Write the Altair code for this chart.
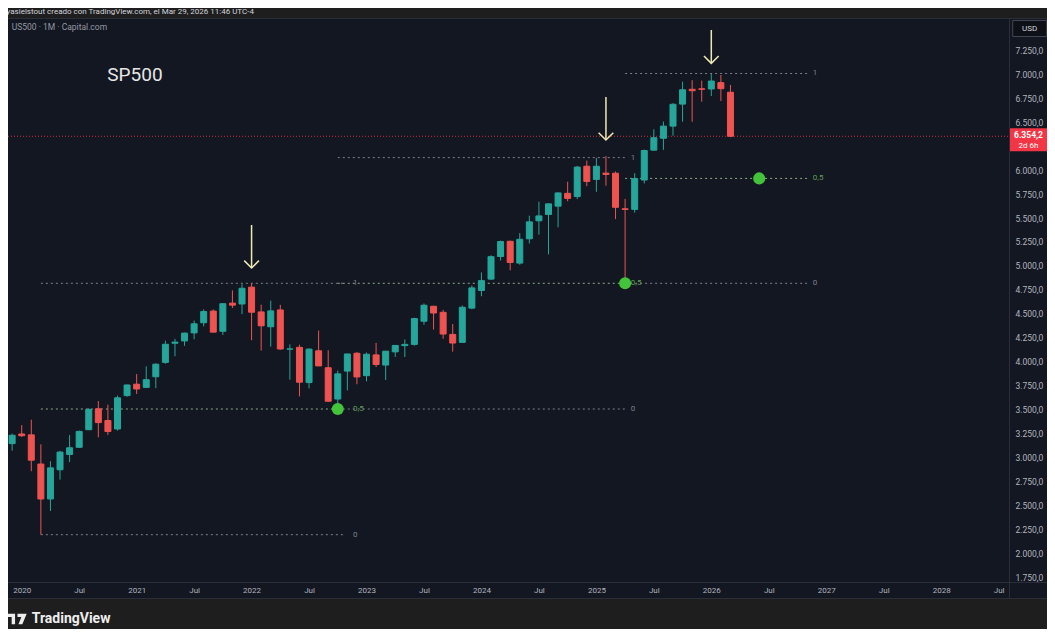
import altair as alt
import pandas as pd

# ---------------- data ----------------
months = [
    "2019-12",
    "2020-01", "2020-02", "2020-03", "2020-04", "2020-05", "2020-06", "2020-07", "2020-08", "2020-09", "2020-10", "2020-11", "2020-12",
    "2021-01", "2021-02", "2021-03", "2021-04", "2021-05", "2021-06", "2021-07", "2021-08", "2021-09", "2021-10", "2021-11", "2021-12",
    "2022-01", "2022-02", "2022-03", "2022-04", "2022-05", "2022-06", "2022-07", "2022-08", "2022-09", "2022-10", "2022-11", "2022-12",
    "2023-01", "2023-02", "2023-03", "2023-04", "2023-05", "2023-06", "2023-07", "2023-08", "2023-09", "2023-10", "2023-11", "2023-12",
    "2024-01", "2024-02", "2024-03", "2024-04", "2024-05", "2024-06", "2024-07", "2024-08", "2024-09", "2024-10", "2024-11", "2024-12",
    "2025-01", "2025-02", "2025-03", "2025-04", "2025-05", "2025-06", "2025-07", "2025-08", "2025-09", "2025-10", "2025-11", "2025-12",
    "2026-01", "2026-02", "2026-03",
]
opens = [
    3143,
    3244, 3235, 2930, 2565, 2870, 3030, 3105, 3289, 3507, 3385, 3296, 3645,
    3764, 3731, 3842, 3992, 4192, 4216, 4300, 4406, 4528, 4317, 4611, 4602,
    4778, 4519, 4364, 4540, 4131, 4149, 3781, 4113, 3936, 3609, 3901, 4087,
    3853, 4070, 3964, 4102, 4167, 4180, 4422, 4578, 4515, 4284, 4201, 4559,
    4743, 4862, 5098, 5257, 5029, 5283, 5471, 5537, 5624, 5758, 5724, 6041,
    5903, 5969, 5968, 5597, 5590, 5897, 6209, 6333, 6460, 6690, 6845, 6850,
    6848, 6914, 6814,
]
highs = [
    3247,
    3337, 3393, 3136, 2960, 3068, 3233, 3280, 3514, 3588, 3550, 3645, 3760,
    3870, 3950, 3983, 4218, 4238, 4302, 4429, 4546, 4545, 4608, 4744, 4808,
    4818, 4595, 4637, 4593, 4180, 4177, 4140, 4325, 4119, 3906, 4080, 4101,
    4095, 4195, 4110, 4170, 4231, 4458, 4607, 4584, 4541, 4393, 4587, 4794,
    4932, 5111, 5265, 5264, 5342, 5524, 5670, 5652, 5768, 5879, 6044, 6100,
    6128, 6147, 5986, 5700, 5968, 6215, 6427, 6508, 6700, 6924, 6940, 6935,
    7005, 6994, 6890,
]
lows = [
    3070,
    3214, 2855, 2192, 2440, 2767, 2950, 3101, 3284, 3209, 3234, 3279, 3633,
    3662, 3725, 3723, 3978, 4056, 4165, 4233, 4368, 4306, 4279, 4560, 4496,
    4223, 4115, 4157, 4123, 3811, 3637, 3721, 3955, 3585, 3492, 3699, 3764,
    3794, 3943, 3808, 4049, 4048, 4166, 4385, 4335, 4238, 4104, 4197, 4547,
    4683, 4854, 5056, 4954, 5012, 5234, 5327, 5120, 5403, 5675, 5697, 5833,
    5774, 5837, 5489, 4818, 5557, 5861, 6201, 6212, 6360, 6506, 6506, 6715,
    6775, 6722, 6345,
]
closes = [
    3231,
    3226, 2970, 2565, 2890, 3055, 3100, 3271, 3500, 3363, 3270, 3622, 3756,
    3714, 3811, 3973, 4181, 4204, 4298, 4395, 4523, 4308, 4605, 4590, 4766,
    4516, 4374, 4530, 4132, 4132, 3785, 4130, 3955, 3586, 3872, 4080, 3840,
    4077, 3970, 4109, 4169, 4180, 4450, 4589, 4508, 4288, 4194, 4568, 4770,
    4846, 5096, 5254, 5036, 5278, 5460, 5522, 5648, 5762, 5705, 6032, 5882,
    6041, 5955, 5612, 5590, 5912, 6205, 6339, 6460, 6688, 6840, 6830, 6845,
    6931, 6851, 6354.2,
]

# Fibonacci tools (month index where they start / end, price at level 0 and 1)
fib_start = [2, 33, 63]
fib_end = [33.8, 63, 82]
fib_label_at = [34.6, 63.6, 82.6]
fib_p0 = [2192, 3505, 4818]
fib_p1 = [4818, 6131, 7010]
fib_levels = [0, 0.5, 1]
fib_texts = ["0", "0,5", "1"]

dot_idx = [33, 63, 77]
dot_price = [3505, 4818, 5914]

arrow_idx = [24, 61, 72]
arrow_top = [5427, 6764, 7464]
arrow_tip = [4978, 6315, 7116]

last_price = 6354.2
x_ticks = list(range(0, 103, 6))
y_ticks = [v for v in range(1750, 7251, 250) if v != 6250]

# ---------------- tables ----------------
df = pd.DataFrame({"month": months, "open": opens, "high": highs, "low": lows, "close": closes})
df["idx"] = [(int(m[:4]) - 2020) * 12 + int(m[5:7]) - 1 for m in months]
df["dir"] = ["up" if c >= o else "down" for o, c in zip(opens, closes)]

fib_rows = []
for t in range(3):
    for lv, tx in zip(fib_levels, fib_texts):
        fib_rows.append({
            "x1": fib_start[t], "x2": fib_end[t], "xl": fib_label_at[t],
            "price": fib_p0[t] + lv * (fib_p1[t] - fib_p0[t]),
            "lvl": tx, "tool": t,
        })
fib = pd.DataFrame(fib_rows)
fib_main = fib[fib["lvl"] != "0,5"]
fib_half = fib[fib["lvl"] == "0,5"]

dots = pd.DataFrame({"idx": dot_idx, "price": dot_price})
arrows = pd.DataFrame({"idx": arrow_idx, "top": arrow_top, "tip": arrow_tip})

fmt = f"{last_price:,.1f}".replace(",", "X").replace(".", ",").replace("X", ".")
tag = pd.DataFrame({"price": [last_price], "t1": [fmt], "t2": ["2d 6h"]})
one = pd.DataFrame({"a": [0]})

# ---------------- scales / axes ----------------
W, H = 1001, 564
BG = "#131722"
FRAME = "#1e1e1e"
xs = alt.Scale(domain=[-0.91, 102.56], nice=False, zero=False)
ys = alt.Scale(domain=[1697.8, 7589.5], nice=False, zero=False)
xaxis = alt.Axis(values=x_ticks, title=None, grid=False, domain=False, ticks=False,
                 labelExpr="datum.value % 12 == 0 ? '' + (2020 + datum.value / 12) : 'Jul'",
                 labelFontSize=8, labelColor="#b2b5be", labelPadding=4,
                 labelFlush=False, labelOverlap=False, zindex=1)
yaxis = alt.Axis(values=y_ticks, title=None, grid=False, domain=False, ticks=False,
                 orient="right", labelExpr="format(datum.value / 1000, '.3f') + ',0'",
                 labelFontSize=8.5, labelColor="#b2b5be", labelPadding=6,
                 labelOverlap=False, zindex=1)
col = alt.Scale(domain=["up", "down"], range=["#26a69a", "#ef5350"])


def X(f):
    return alt.X(f, scale=xs, axis=xaxis)


def Y(f):
    return alt.Y(f, scale=ys, axis=yaxis)


# ---------------- layers ----------------
header_bg = alt.Chart(one).mark_rect(color=FRAME).encode(
    x=alt.value(-10), x2=alt.value(1040), y=alt.value(-12), y2=alt.value(0))
footer_bg = alt.Chart(one).mark_rect(color=FRAME).encode(
    x=alt.value(-10), x2=alt.value(1040), y=alt.value(H + 17), y2=alt.value(H + 60))
sep_v = alt.Chart(one).mark_rule(color="#2a2e39", strokeWidth=1).encode(
    x=alt.value(W + 0.5), y=alt.value(0), y2=alt.value(H + 17))
sep_h = alt.Chart(one).mark_rule(color="#2a2e39", strokeWidth=1).encode(
    x=alt.value(-10), x2=alt.value(1040), y=alt.value(H + 0.5))
sep_top = alt.Chart(one).mark_rule(color="#2a2e39", strokeWidth=1).encode(
    x=alt.value(-10), x2=alt.value(1040), y=alt.value(0.5))
sep_bot = alt.Chart(one).mark_rule(color="#2a2e39", strokeWidth=1).encode(
    x=alt.value(-10), x2=alt.value(1040), y=alt.value(H + 16.5))

wicks = alt.Chart(df).mark_rule(strokeWidth=1).encode(
    x=X("idx:Q"), y=Y("low:Q"), y2="high:Q",
    color=alt.Color("dir:N", scale=col, legend=None))
bodies = alt.Chart(df).mark_bar(size=6, strokeWidth=1).encode(
    x=X("idx:Q"), y=Y("open:Q"), y2="close:Q",
    color=alt.Color("dir:N", scale=col, legend=None),
    stroke=alt.Stroke("dir:N", scale=col, legend=None))

fib_lines_main = alt.Chart(fib_main).mark_rule(strokeDash=[2, 3], strokeWidth=1, color="#7c808b").encode(
    x=X("x1:Q"), x2="x2:Q", y=Y("price:Q"))
fib_lines_half = alt.Chart(fib_half).mark_rule(strokeDash=[2, 3], strokeWidth=1, color="#8fa88a").encode(
    x=X("x1:Q"), x2="x2:Q", y=Y("price:Q"))
fib_text_main = alt.Chart(fib_main).mark_text(align="left", baseline="middle", fontSize=8, color="#7c808b").encode(
    x=X("xl:Q"), y=Y("price:Q"), text="lvl:N")
fib_text_half = alt.Chart(fib_half).mark_text(align="left", baseline="middle", fontSize=8, color="#5f9e55").encode(
    x=X("xl:Q"), y=Y("price:Q"), text="lvl:N")

price_line = alt.Chart(tag).mark_rule(strokeDash=[1, 2], strokeWidth=1, color="#f23645", opacity=0.8).encode(
    x=alt.value(0), x2=alt.value(W), y=Y("price:Q"))

green_dots = alt.Chart(dots).mark_circle(size=145, color="#43c33a", opacity=1).encode(
    x=X("idx:Q"), y=Y("price:Q"))

arrow_shaft = alt.Chart(arrows).mark_rule(strokeWidth=1.5, color="#efeab4").encode(
    x=X("idx:Q"), y=Y("top:Q"), y2="tip:Q")
arrow_head = alt.Chart(arrows).mark_point(shape="M-1,-1L0,0L1,-1", size=216, filled=False,
                                          strokeWidth=1.5, color="#efeab4", opacity=1).encode(
    x=X("idx:Q"), y=Y("tip:Q"))

tag_box = alt.Chart(tag).mark_point(shape="M-1,-0.43H1V0.81H-1Z", size=1369, filled=True,
                                    color="#f23645", opacity=1).encode(
    x=alt.value(1020.5), y=Y("price:Q"))
tag_t1 = alt.Chart(tag).mark_text(fontSize=8.5, fontWeight="bold", color="#ffffff", dy=-1.5).encode(
    x=alt.value(1020.5), y=Y("price:Q"), text="t1:N")
tag_t2 = alt.Chart(tag).mark_text(fontSize=8, color="#ffffff", dy=9.5).encode(
    x=alt.value(1020.5), y=Y("price:Q"), text="t2:N")

usd_box = alt.Chart(one).mark_point(shape="M-1,-0.47H1V0.47H-1Z", size=1156, filled=True,
                                    color="#0e1017", stroke="#434651", strokeWidth=1, opacity=1).encode(
    x=alt.value(1021.7), y=alt.value(10.5))
usd_txt = alt.Chart(pd.DataFrame({"t": ["USD"]})).mark_text(fontSize=8, color="#d1d4dc").encode(
    x=alt.value(1021.7), y=alt.value(10.5), text="t:N")

header = alt.Chart(pd.DataFrame({"t": ["yasielstout creado con TradingView.com, el Mar 29, 2026 11:46 UTC-4"]})).mark_text(
    align="left", baseline="middle", fontSize=8, color="#d1d4dc").encode(
    x=alt.value(-1.5), y=alt.value(-5.6), text="t:N")
subtitle = alt.Chart(pd.DataFrame({"t": ["US500 · 1M · Capital.com"]})).mark_text(
    align="left", baseline="middle", fontSize=8.5, color="#9598a1").encode(
    x=alt.value(3.7), y=alt.value(9.3), text="t:N")
sp_title = alt.Chart(pd.DataFrame({"t": ["SP500"]})).mark_text(
    align="left", baseline="middle", fontSize=19, color="#e6e6e6").encode(
    x=alt.value(99.3), y=alt.value(56.7), text="t:N")
logo_icon = alt.Chart(one).mark_point(
    shape="M-1,-0.55H-0.2V0.55H-0.55V-0.2H-1ZM0.05,-0.55H1L0.55,0.55H0.15L0.45,-0.2H0.05Z",
    size=376, filled=True, color="#eeeeee", opacity=1).encode(
    x=alt.value(9), y=alt.value(601))
logo_txt = alt.Chart(pd.DataFrame({"t": ["TradingView"]})).mark_text(
    align="left", baseline="middle", fontSize=14, fontWeight="bold", color="#eeeeee").encode(
    x=alt.value(23.7), y=alt.value(601), text="t:N")

chart = alt.layer(
    header_bg, footer_bg, sep_v, sep_h, sep_top, sep_bot,
    fib_lines_main, fib_lines_half, price_line,
    wicks, bodies,
    fib_text_main, fib_text_half, green_dots,
    arrow_shaft, arrow_head,
    tag_box, tag_t1, tag_t2, usd_box, usd_txt,
    header, subtitle, sp_title, logo_icon, logo_txt,
).properties(
    width=W, height=H,
    padding={"left": 0, "top": 10, "right": 38, "bottom": 47},
    autosize=alt.AutoSizeParams(type="none"),
    background=BG,
).configure(
    font="Roboto"
).configure_view(
    fill=BG, strokeWidth=0
)

chart.save("out.html", embed_options={"renderer": "svg", "actions": False})
